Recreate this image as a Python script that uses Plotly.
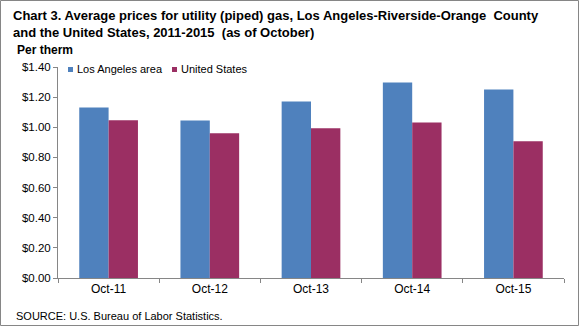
import plotly.graph_objects as go

categories = ["Oct-11", "Oct-12", "Oct-13", "Oct-14", "Oct-15"]
la_values = [1.131, 1.045, 1.171, 1.297, 1.250]
us_values = [1.046, 0.960, 0.993, 1.032, 0.907]
series_names = ["Los Angeles area", "United States"]
series_colors = ["#4F81BD", "#9B2F63"]
y_ticks = [0, 0.2, 0.4, 0.6, 0.8, 1.0, 1.2, 1.4]
y_tick_labels = ["$0.00", "$0.20", "$0.40", "$0.60", "$0.80", "$1.00", "$1.20", "$1.40"]

W, H = 579, 326
ML, MR, MT, MB = 58, 15, 67, 48
PW = W - ML - MR
PH = H - MT - MB

def px(x):
    return (x - ML) / PW

def py(y):
    return (H - MB - y) / PH

font = "Arial, Liberation Sans, sans-serif"

fig = go.Figure()
fig.add_trace(go.Bar(x=categories, y=la_values, name=series_names[0],
                     marker=dict(color=series_colors[0], line=dict(width=0))))
fig.add_trace(go.Bar(x=categories, y=us_values, name=series_names[1],
                     marker=dict(color=series_colors[1], line=dict(width=0))))

fig.update_layout(
    width=W, height=H,
    margin=dict(l=ML, r=MR, t=MT, b=MB, pad=0),
    paper_bgcolor="white", plot_bgcolor="white",
    barmode="group", bargap=0.42, bargroupgap=0,
    font=dict(family=font, size=11, color="black"),
    showlegend=False,
    xaxis=dict(showgrid=False, showline=True, linecolor="#868686", linewidth=1,
               ticks="outside", tickson="boundaries", ticklen=4, tickcolor="#868686",
               tickfont=dict(size=12), zeroline=False),
    yaxis=dict(range=[0, 1.4], tickvals=y_ticks, ticktext=y_tick_labels,
               showgrid=False, showline=True, linecolor="#868686", linewidth=1,
               ticks="outside", ticklen=4, tickcolor="#868686", zeroline=False,
               tickfont=dict(size=11.5)),
)

annotations = [
    dict(text="<b>Chart 3. Average prices for utility (piped) gas, Los Angeles-Riverside-Orange  County<br>and the United States, 2011-2015  (as of October)</b>",
         x=px(11), y=py(6), xanchor="left", yanchor="top", align="left",
         font=dict(size=13, family=font)),
    dict(text="<b>Per therm</b>", x=px(15), y=py(41), xanchor="left", yanchor="top",
         font=dict(size=12, family=font)),
    dict(text="SOURCE: U.S. Bureau of Labor Statistics.", x=px(14), y=py(308),
         xanchor="left", yanchor="top", font=dict(size=11, family=font)),
    dict(text=series_names[0], x=px(75), y=py(69), xanchor="left", yanchor="middle",
         font=dict(size=11, family=font)),
    dict(text=series_names[1], x=px(179), y=py(69), xanchor="left", yanchor="middle",
         font=dict(size=11, family=font)),
]
for a in annotations:
    a.update(xref="paper", yref="paper", showarrow=False)
fig.update_layout(annotations=annotations)

# legend keys
for x0, c in [(68, series_colors[0]), (172, series_colors[1])]:
    fig.add_shape(type="rect", xref="paper", yref="paper",
                  x0=px(x0), x1=px(x0 + 5), y0=py(72), y1=py(67),
                  line=dict(width=0), fillcolor=c)

fig.add_shape(type="rect", xref="paper", yref="paper",
              x0=px(0.5), x1=px(578.5), y0=py(325.5), y1=py(0.5),
              line=dict(color="#868686", width=1), fillcolor="rgba(0,0,0,0)")

fig.write_html("out.html")
